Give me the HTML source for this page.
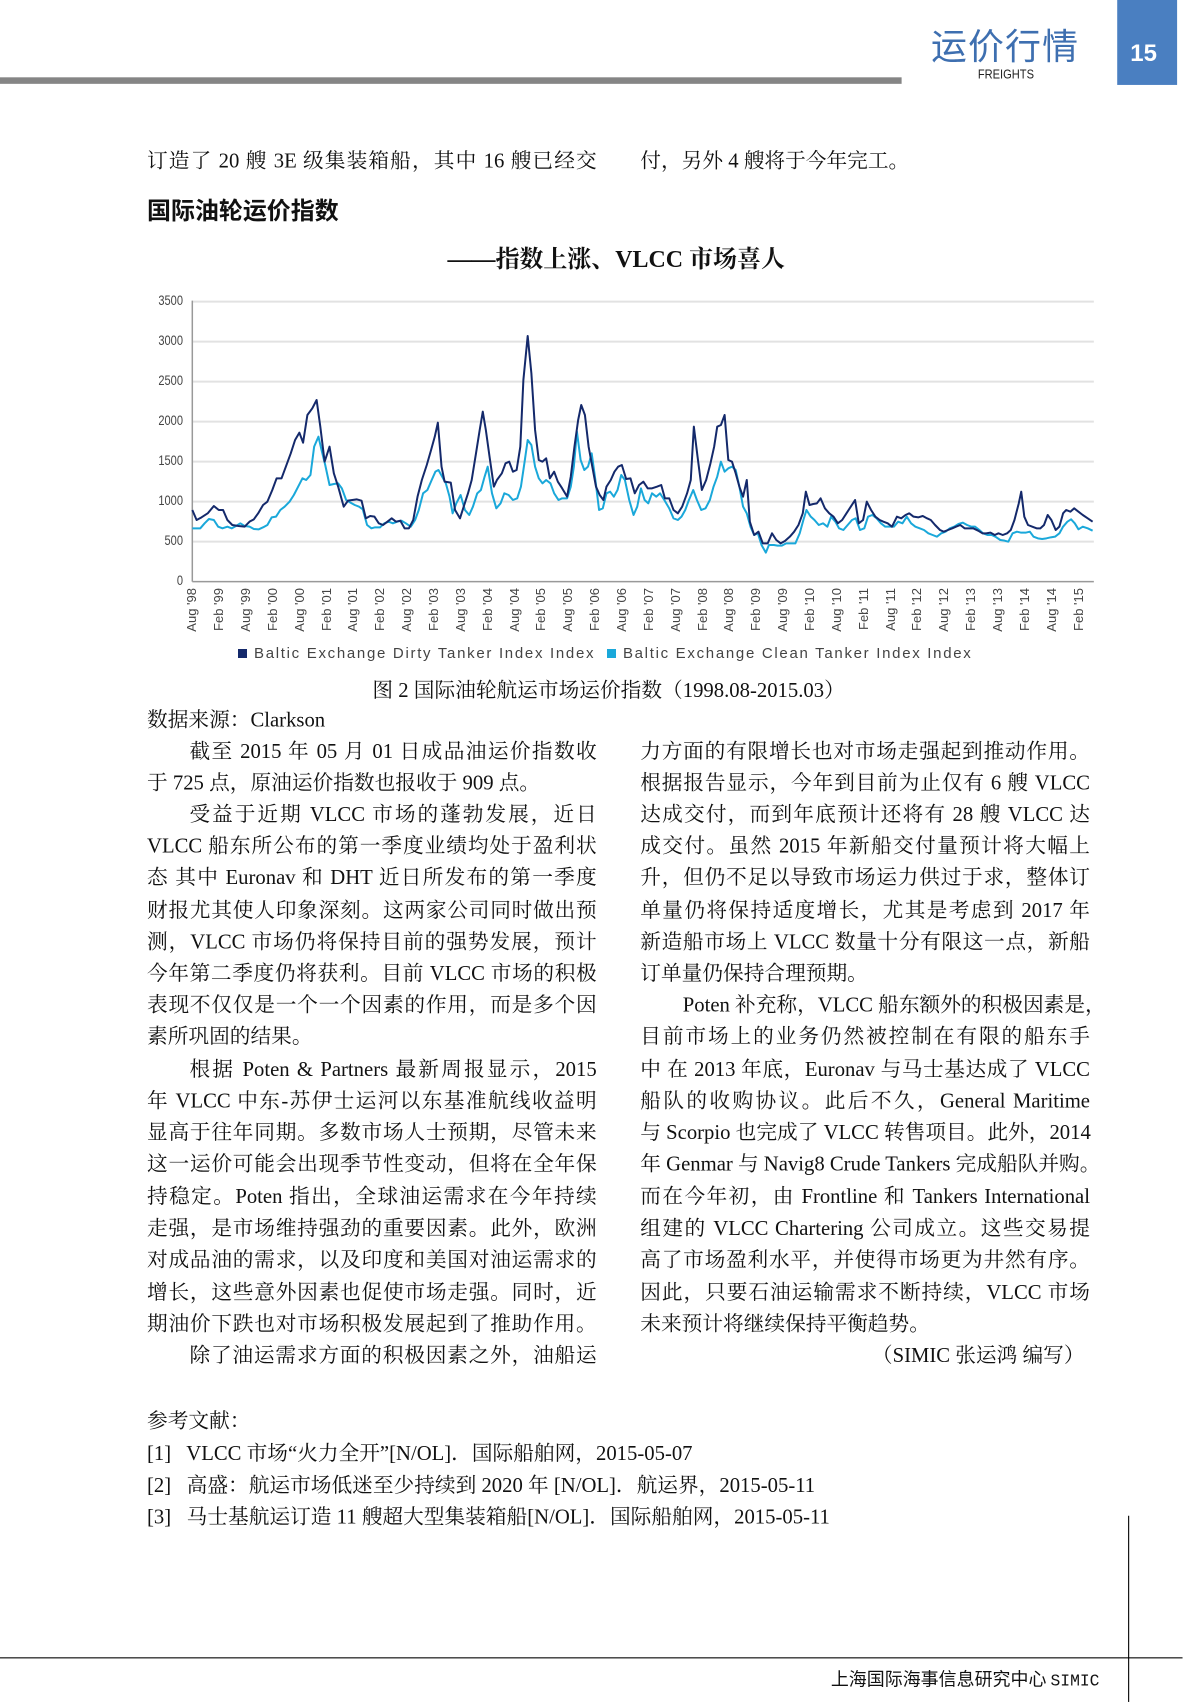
<!DOCTYPE html>
<html><head><meta charset="utf-8">
<style>
*{margin:0;padding:0;box-sizing:border-box}
body{width:1200px;height:1702px;background:#fff;position:relative;overflow:hidden}
#w{position:absolute;left:0;top:0;width:1102px;height:1563px;transform:scale(1.0889);transform-origin:0 0}
.a{position:absolute;white-space:nowrap}
.s{font-family:"Liberation Serif","Noto Serif CJK SC",serif;font-size:19px;color:#111}
.L{position:absolute;width:413px;height:29px;line-height:29px;font-family:"Liberation Serif","Noto Serif CJK SC",serif;font-size:19px;color:#111;text-align:justify;text-align-last:justify;white-space:nowrap}
.n{text-align-last:left}
.i{padding-left:39px}
.lb{position:absolute;font-family:"Liberation Sans","DejaVu Sans",sans-serif;font-size:13.5px;color:#444;transform:scaleX(0.82);transform-origin:100% 0;width:40px;text-align:right}
.xl{position:absolute;font-family:"Liberation Sans",sans-serif;font-size:13px;color:#444;transform:rotate(-90deg);transform-origin:0 0;white-space:nowrap;text-align:right;width:50px}
</style></head><body>
<div id="w">
<div class="a" style="left:0;top:71px;width:828px;height:6px;background:#858585"></div>
<div class="a" style="left:855px;top:16px;font-family:'Noto Sans CJK SC',sans-serif;font-size:33px;color:#3e6fb0;letter-spacing:1px">运价行情</div>
<div class="a" style="left:898px;top:61px;font-family:'Liberation Sans',sans-serif;font-size:12px;color:#222;transform:scaleX(0.85);transform-origin:0 0">FREIGHTS</div>
<div class="a" style="left:1026px;top:0;width:55px;height:78px;background:#4a7fc1"></div>
<div class="a" style="left:1038px;top:36px;font-family:'Liberation Sans',sans-serif;font-size:22px;font-weight:bold;color:#fff">15</div>

<div class="L" style="left:135px;top:134px">订造了 20 艘 3E 级集装箱船，其中 16 艘已经交</div>
<div class="L n" style="left:588px;top:134px">付，另外 4 艘将于今年完工。</div>
<div class="a" style="left:135px;top:176px;font-family:'Noto Sans CJK SC',sans-serif;font-weight:bold;font-size:22px;color:#111">国际油轮运价指数</div>
<div class="a" style="left:411px;top:221px;font-family:'Liberation Serif','Noto Serif CJK SC',serif;font-weight:bold;font-size:22px;color:#111">——指数上涨、VLCC 市场喜人</div>

<div class="a s" style="left:342px;top:619px">图 2 国际油轮航运市场运价指数（1998.08-2015.03）</div>

<div class="L n" style="left:135px;top:647px">数据来源：Clarkson</div>
<div class="L i" style="left:135px;top:676px">截至 2015 年 05 月 01 日成品油运价指数收</div>
<div class="L n" style="left:135px;top:705px">于 725 点，原油运价指数也报收于 909 点。</div>
<div class="L i" style="left:135px;top:734px">受益于近期 VLCC 市场的蓬勃发展，近日</div>
<div class="L" style="left:135px;top:763px">VLCC 船东所公布的第一季度业绩均处于盈利状</div>
<div class="L" style="left:135px;top:792px">态 其中 Euronav 和 DHT 近日所发布的第一季度</div>
<div class="L" style="left:135px;top:822px">财报尤其使人印象深刻。这两家公司同时做出预</div>
<div class="L" style="left:135px;top:851px">测，VLCC 市场仍将保持目前的强势发展，预计</div>
<div class="L" style="left:135px;top:880px">今年第二季度仍将获利。目前 VLCC 市场的积极</div>
<div class="L" style="left:135px;top:909px">表现不仅仅是一个一个因素的作用，而是多个因</div>
<div class="L n" style="left:135px;top:938px">素所巩固的结果。</div>
<div class="L i" style="left:135px;top:968px">根据 Poten &amp; Partners 最新周报显示，2015</div>
<div class="L" style="left:135px;top:997px">年 VLCC 中东-苏伊士运河以东基准航线收益明</div>
<div class="L" style="left:135px;top:1026px">显高于往年同期。多数市场人士预期，尽管未来</div>
<div class="L" style="left:135px;top:1055px">这一运价可能会出现季节性变动，但将在全年保</div>
<div class="L" style="left:135px;top:1085px">持稳定。Poten 指出，全球油运需求在今年持续</div>
<div class="L" style="left:135px;top:1114px">走强，是市场维持强劲的重要因素。此外，欧洲</div>
<div class="L" style="left:135px;top:1143px">对成品油的需求，以及印度和美国对油运需求的</div>
<div class="L" style="left:135px;top:1173px">增长，这些意外因素也促使市场走强。同时，近</div>
<div class="L" style="left:135px;top:1202px">期油价下跌也对市场积极发展起到了推助作用。</div>
<div class="L i" style="left:135px;top:1231px">除了油运需求方面的积极因素之外，油船运</div>

<div class="L" style="left:588px;top:676px">力方面的有限增长也对市场走强起到推动作用。</div>
<div class="L" style="left:588px;top:705px">根据报告显示，今年到目前为止仅有 6 艘 VLCC</div>
<div class="L" style="left:588px;top:734px">达成交付，而到年底预计还将有 28 艘 VLCC 达</div>
<div class="L" style="left:588px;top:763px">成交付。虽然 2015 年新船交付量预计将大幅上</div>
<div class="L" style="left:588px;top:792px">升，但仍不足以导致市场运力供过于求，整体订</div>
<div class="L" style="left:588px;top:822px">单量仍将保持适度增长，尤其是考虑到 2017 年</div>
<div class="L" style="left:588px;top:851px">新造船市场上 VLCC 数量十分有限这一点，新船</div>
<div class="L n" style="left:588px;top:880px">订单量仍保持合理预期。</div>
<div class="L i" style="left:588px;top:909px">Poten 补充称，VLCC 船东额外的积极因素是，</div>
<div class="L" style="left:588px;top:938px">目前市场上的业务仍然被控制在有限的船东手</div>
<div class="L" style="left:588px;top:968px">中 在 2013 年底，Euronav 与马士基达成了 VLCC</div>
<div class="L" style="left:588px;top:997px">船队的收购协议。此后不久，General Maritime</div>
<div class="L" style="left:588px;top:1026px">与 Scorpio 也完成了 VLCC 转售项目。此外，2014</div>
<div class="L" style="left:588px;top:1055px">年 Genmar 与 Navig8 Crude Tankers 完成船队并购。</div>
<div class="L" style="left:588px;top:1085px">而在今年初，由 Frontline 和 Tankers International</div>
<div class="L" style="left:588px;top:1114px">组建的 VLCC Chartering 公司成立。这些交易提</div>
<div class="L" style="left:588px;top:1143px">高了市场盈利水平，并使得市场更为井然有序。</div>
<div class="L" style="left:588px;top:1173px">因此，只要石油运输需求不断持续，VLCC 市场</div>
<div class="L n" style="left:588px;top:1202px">未来预计将继续保持平衡趋势。</div>
<div class="L n" style="left:588px;top:1231px;text-align:right;text-align-last:right;width:408px">（SIMIC 张运鸿 编写）</div>

<div class="L n" style="left:135px;top:1291px">参考文献：</div>
<div class="L n" style="left:135px;top:1321px;width:700px">[1]&nbsp;&nbsp; VLCC 市场“火力全开”[N/OL]．国际船舶网，2015-05-07</div>
<div class="L n" style="left:135px;top:1350px;width:700px">[2]&nbsp;&nbsp; 高盛：航运市场低迷至少持续到 2020 年 [N/OL]．航运界，2015-05-11</div>
<div class="L n" style="left:135px;top:1379px;width:700px">[3]&nbsp;&nbsp; 马士基航运订造 11 艘超大型集装箱船[N/OL]．国际船舶网，2015-05-11</div>

<div class="a" style="left:0;top:1522px;width:1086px;height:1px;background:#000"></div>
<div class="a" style="left:1036px;top:1392px;width:1px;height:171px;background:#000"></div>
<div class="a" style="left:763px;top:1529px;font-family:'WenQuanYi Zen Hei','Noto Sans CJK SC',sans-serif;font-size:16.5px;color:#111">上海国际海事信息研究中心 <span style="font-family:'Liberation Mono',monospace;font-size:15px">SIMIC</span></div>
</div>

<svg style="position:absolute;left:140px;top:280px" width="960" height="400" viewBox="0 0 1560 1200" preserveAspectRatio="none">
<g stroke="#e2e2e2" stroke-width="2">
<line x1="85" x2="1550" y1="65" y2="65" vector-effect="non-scaling-stroke"/>
<line x1="85" x2="1550" y1="185" y2="185" vector-effect="non-scaling-stroke"/>
<line x1="85" x2="1550" y1="305" y2="305" vector-effect="non-scaling-stroke"/>
<line x1="85" x2="1550" y1="425" y2="425" vector-effect="non-scaling-stroke"/>
<line x1="85" x2="1550" y1="545" y2="545" vector-effect="non-scaling-stroke"/>
<line x1="85" x2="1550" y1="665" y2="665" vector-effect="non-scaling-stroke"/>
<line x1="85" x2="1550" y1="785" y2="785" vector-effect="non-scaling-stroke"/>
</g>
<line x1="85" x2="1550" y1="905" y2="905" stroke="#999" stroke-width="1.5" vector-effect="non-scaling-stroke"/>
<line x1="85" x2="85" y1="62" y2="905" stroke="#999" stroke-width="1.5" vector-effect="non-scaling-stroke"/>
<polyline fill="none" stroke="#1aa8da" stroke-width="2" vector-effect="non-scaling-stroke" stroke-linejoin="round" points="85,745 92,745 98,745 105,730 112,717 120,720 127,740 134,745 142,740 149,745 156,738 163,730 170,738 178,740 185,747 193,748 200,742 207,735 214,712 221,710 228,690 235,680 243,665 250,645 257,620 264,595 270,600 277,585 283,500 290,470 295,510 301,555 308,615 315,612 322,610 328,625 335,660 342,668 349,675 356,680 362,688 369,735 376,745 382,742 390,742 397,730 404,725 411,730 418,725 425,722 432,730 440,740 447,720 453,690 460,640 467,630 474,600 480,575 485,570 491,590 497,610 503,650 508,700 514,670 521,645 528,690 535,705 541,680 548,640 554,630 560,590 565,560 572,640 579,685 586,670 592,640 599,645 606,660 613,655 619,620 625,545 630,480 636,495 642,560 648,595 654,610 660,600 667,610 673,640 680,660 686,655 694,655 700,620 705,560 710,455 716,540 722,570 728,560 734,520 740,600 746,690 752,685 758,640 764,635 770,650 776,630 782,585 788,600 795,660 802,705 808,680 814,625 820,660 826,670 832,640 839,650 845,640 852,660 860,685 867,715 874,720 880,710 886,690 892,660 899,630 905,660 912,690 919,685 926,660 932,620 938,590 944,545 950,575 956,565 962,560 968,570 974,620 980,680 986,700 992,740 998,765 1004,760 1010,795 1017,818 1022,795 1030,795 1036,797 1043,797 1050,790 1057,790 1065,790 1072,760 1078,720 1083,690 1090,710 1096,720 1103,735 1110,730 1117,740 1123,710 1130,725 1136,745 1143,750 1150,735 1157,720 1163,715 1170,750 1177,745 1183,710 1190,705 1197,715 1204,730 1211,740 1218,740 1225,740 1232,725 1239,730 1246,710 1253,730 1260,740 1267,745 1274,750 1281,760 1288,765 1295,770 1302,760 1309,755 1316,745 1323,740 1330,732 1337,728 1344,735 1351,740 1357,740 1364,750 1370,760 1377,765 1384,765 1390,770 1398,780 1405,782 1411,785 1418,760 1425,755 1432,758 1439,758 1446,755 1452,770 1459,775 1466,777 1473,775 1480,772 1487,770 1494,760 1500,740 1507,725 1513,718 1519,730 1525,748 1532,740 1540,745 1548,752"/>
<polyline fill="none" stroke="#14296b" stroke-width="2" vector-effect="non-scaling-stroke" stroke-linejoin="round" points="85,690 92,720 100,712 110,700 120,678 128,690 135,690 142,720 150,735 160,738 170,740 178,725 185,718 192,700 200,675 207,665 215,630 222,595 230,595 237,560 245,520 252,480 259,458 265,488 272,405 280,385 287,360 293,440 300,545 308,500 315,580 322,620 331,680 338,662 345,660 352,658 360,662 367,715 374,708 381,710 388,730 395,735 402,725 409,715 416,725 423,722 430,745 437,745 444,720 451,650 458,600 466,555 473,510 479,470 484,428 490,560 495,605 505,608 512,690 520,715 526,680 533,640 539,600 546,520 552,450 557,395 562,450 568,530 575,620 580,600 588,580 594,550 600,545 606,575 612,570 618,500 623,300 630,168 636,280 642,450 648,540 654,545 660,535 666,595 673,575 679,605 686,625 694,650 700,590 706,500 712,420 717,375 723,405 729,500 735,560 741,620 747,645 753,660 758,620 765,600 771,575 777,560 783,555 790,597 797,595 804,640 811,615 818,605 825,625 832,625 840,620 847,615 853,655 860,655 867,690 874,700 881,680 889,640 895,600 900,440 906,530 913,630 920,600 927,550 933,500 938,440 944,435 950,405 956,540 962,545 968,580 974,620 980,650 986,600 991,725 998,765 1005,755 1012,790 1020,790 1027,760 1034,780 1041,790 1048,783 1056,770 1063,755 1070,735 1077,700 1082,635 1088,675 1094,672 1100,670 1106,655 1113,685 1120,700 1127,710 1134,730 1141,720 1148,700 1155,680 1162,660 1168,730 1175,720 1181,665 1188,690 1195,710 1202,720 1208,725 1215,730 1222,740 1230,710 1237,715 1244,705 1250,700 1257,710 1265,712 1272,708 1279,715 1285,720 1292,735 1300,750 1306,755 1313,750 1320,745 1326,740 1333,735 1340,745 1347,745 1354,745 1362,752 1369,760 1375,760 1382,758 1389,765 1395,760 1402,765 1409,760 1415,750 1421,720 1428,670 1432,635 1437,710 1443,735 1450,740 1457,745 1463,745 1469,735 1475,705 1481,720 1488,750 1494,740 1500,700 1505,690 1512,695 1518,685 1525,695 1532,705 1540,715 1548,725"/>
</svg>

<div class="lb" style="left:143px;top:293px">3500</div>
<div class="lb" style="left:143px;top:333px">3000</div>
<div class="lb" style="left:143px;top:373px">2500</div>
<div class="lb" style="left:143px;top:413px">2000</div>
<div class="lb" style="left:143px;top:453px">1500</div>
<div class="lb" style="left:143px;top:493px">1000</div>
<div class="lb" style="left:143px;top:533px">500</div>
<div class="lb" style="left:143px;top:573px">0</div>

<div id="xl"></div>
<script>
(function(){var n=["Aug '98","Feb '99","Aug '99","Feb '00","Aug '00","Feb '01","Aug '01","Feb '02","Aug '02","Feb '03","Aug '03","Feb '04","Aug '04","Feb '05","Aug '05","Feb '06","Aug '06","Feb '07","Aug '07","Feb '08","Aug '08","Feb '09","Aug '09","Feb '10","Aug '10","Feb '11","Aug '11","Feb '12","Aug '12","Feb '13","Aug '13","Feb '14","Aug '14","Feb '15"];var h="";for(var k=0;k<n.length;k++){var x=140+(85+43.64*k)/1.625-8;h+='<div class="xl" style="left:'+x.toFixed(1)+'px;top:638px">'+n[k]+'</div>';}document.getElementById("xl").innerHTML=h;})();
</script>

<div class="a" style="left:238px;top:645px;font-family:'Liberation Sans',sans-serif;font-size:15px;color:#444;letter-spacing:1.7px">
<span style="display:inline-block;width:9px;height:9px;background:#14296b;margin-right:7px"></span>Baltic Exchange Dirty Tanker Index Index&nbsp;&nbsp;<span style="display:inline-block;width:9px;height:9px;background:#1aa8da;margin-right:7px"></span>Baltic Exchange Clean Tanker Index Index</div>
</body></html>
